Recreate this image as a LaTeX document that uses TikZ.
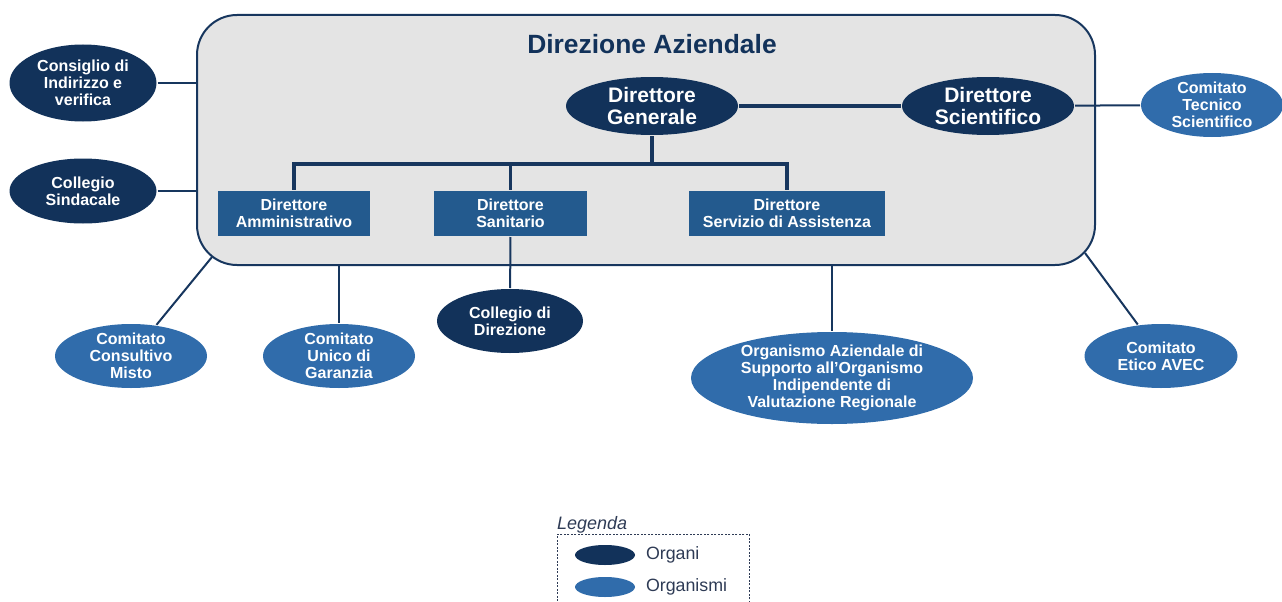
\documentclass[tikz,border=0pt]{standalone}
\usepackage{fontspec}
\setmainfont{Liberation Sans}
\usetikzlibrary{shapes.geometric,positioning,calc}

\definecolor{organoblu}{HTML}{12325A}
\definecolor{organismoblu}{HTML}{306CAB}
\definecolor{direttblu}{HTML}{235A8E}
\definecolor{boxgrigio}{HTML}{E4E4E4}
\definecolor{lineablu}{HTML}{17365E}
\definecolor{legtesto}{HTML}{2E3B55}

\begin{document}
\begin{tikzpicture}[x=1pt,y=-1pt,line width=2pt,draw=lineablu,
  organo/.style={ellipse,fill=organoblu,text=white,align=center,inner xsep=-2pt,inner ysep=-6pt,
    font=\bfseries\fontsize{16}{17}\selectfont},
  organismo/.style={organo,fill=organismoblu},
  direttore/.style={rectangle,fill=direttblu,text=white,align=center,inner sep=0pt,
    minimum height=45,font=\bfseries\fontsize{16}{16.5}\selectfont},
  vertice/.style={organo,font=\bfseries\fontsize{21}{22}\selectfont,minimum width=172,minimum height=58},
  albero/.style={line width=3.5pt}]
\useasboundingbox (0,0) rectangle (1282,602);

% direzione aziendale
\node[draw=lineablu,fill=boxgrigio,rounded corners=40pt,minimum width=898,minimum height=250] (dir) at (646,140) {};
\node[font=\bfseries\fontsize{26.4}{30}\selectfont,text=organoblu] (tit) at (652,44) {Direzione Aziendale};

\node[vertice] (dg) at (652,106) {Direttore\\Generale};
\node[vertice] (ds) at (988,106) {Direttore\\Scientifico};

\node[direttore,minimum width=152] (amm) at (294,213.5) {Direttore\\Amministrativo};
\node[direttore,minimum width=153] (san) at (510.5,213.5) {Direttore\\Sanitario};
\node[direttore,minimum width=196] (ass) at (787,213.5) {Direttore\\Servizio di Assistenza};

\coordinate (fork) at (652,164);
\draw[albero] (dg) -- (fork);
\draw[albero] (fork) -| (amm);
\draw[albero] (fork) -| (san);
\draw[albero] (fork) -| (ass);
\draw[albero] (dg) -- (ds);

% organi e organismi esterni
\node[organo,minimum width=147,minimum height=77] (civ) at (83,83) {Consiglio di\\Indirizzo e\\verifica};
\node[organo,minimum width=147,minimum height=65] (cs) at (83,191) {Collegio\\Sindacale};
\node[organismo,minimum width=142,minimum height=64] (cts) at (1212,105) {Comitato\\Tecnico\\Scientifico};
\node[organo,minimum width=146,minimum height=64] (cdd) at (510,321) {Collegio di\\Direzione};
\node[organismo,minimum width=152,minimum height=64] (ccm) at (131,356) {Comitato\\Consultivo\\Misto};
\node[organismo,minimum width=152,minimum height=64] (cug) at (339,356) {Comitato\\Unico di\\Garanzia};
\node[organismo,minimum width=282,minimum height=92] (oas) at (832,378) {Organismo Aziendale di\\Supporto all’Organismo\\Indipendente di\\Valutazione Regionale};
\node[organismo,minimum width=153,minimum height=64] (cea) at (1161,356) {Comitato\\Etico AVEC};

\coordinate (kl) at (212,257);
\coordinate (kr) at (1085,253);

\draw (civ) -- (civ -| dir.west);
\draw (cs) -- (cs -| dir.west);
\draw (ds) -- (cts);
\draw (san) -- (cdd);
\draw (kl) -- (ccm);
\draw (cug |- dir.south) -- (cug);
\draw (oas |- dir.south) -- (oas);
\draw (kr) -- (cea);

% legenda
\node[font=\itshape\fontsize{18}{20}\selectfont,text=legtesto,anchor=south west,inner sep=1pt] (leg) at (555,535) {Legenda};
\node[draw=legtesto,line width=0.8pt,dash pattern=on 2pt off 1.5pt,anchor=north west,minimum width=192,minimum height=90] (legbox) at (557,534) {};
\node[ellipse,fill=organoblu,minimum width=60,minimum height=20,inner sep=0pt] (lorg) at (605,555) {};
\node[ellipse,fill=organismoblu,minimum width=60,minimum height=20,inner sep=0pt] (lism) at (605,587) {};
\node[right=9pt of lorg,inner sep=0pt,text=legtesto,font=\fontsize{17.8}{19}\selectfont] {Organi};
\node[right=9pt of lism,inner sep=0pt,text=legtesto,font=\fontsize{17.8}{19}\selectfont] {Organismi};
\end{tikzpicture}
\end{document}
